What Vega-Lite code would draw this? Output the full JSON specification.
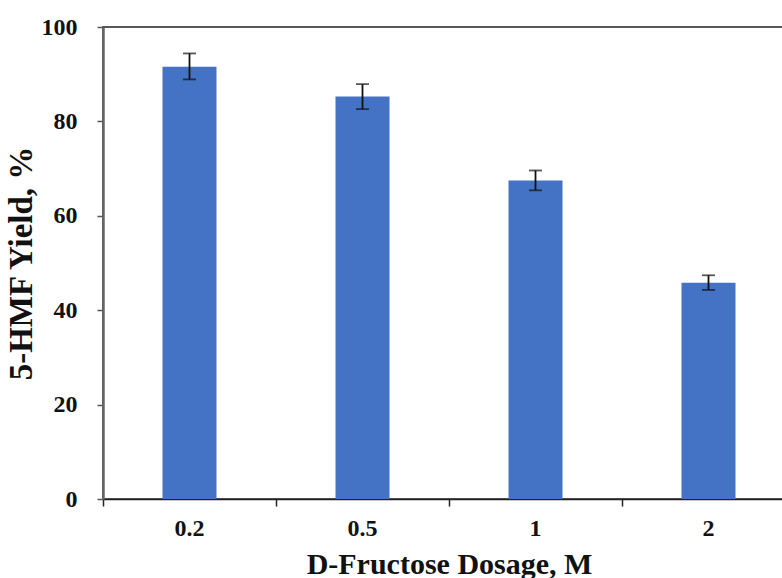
{
  "$schema": "https://vega.github.io/schema/vega-lite/v6.json",
  "autosize": "none",
  "padding": {"left": 103, "top": 27, "right": 0, "bottom": 79},
  "width": 692,
  "height": 472,
  "background": "white",
  "config": {
    "view": {"stroke": "#222", "strokeWidth": 1.5},
    "font": "Liberation Serif"
  },
  "data": {
    "values": [
      {"dosage": "0.2", "yield": 91.6, "low": 88.9, "high": 94.4},
      {"dosage": "0.5", "yield": 85.3, "low": 82.6, "high": 87.9},
      {"dosage": "1", "yield": 67.5, "low": 65.4, "high": 69.6},
      {"dosage": "2", "yield": 45.8, "low": 44.3, "high": 47.4}
    ]
  },
  "resolve": {"axis": {"x": "independent"}},
  "layer": [
    {
      "mark": {"type": "bar", "color": "#4472C4", "width": 54},
      "encoding": {
        "x": {
          "field": "dosage", "type": "ordinal", "sort": null,
          "scale": {"paddingInner": 0, "paddingOuter": 0},
          "axis": {
            "orient": "bottom",
            "title": "D-Fructose Dosage, M",
            "titleFont": "Liberation Serif", "titleFontSize": 30, "titleFontWeight": "bold", "titleColor": "#111",
            "titlePadding": 9,
            "labelFont": "Liberation Serif", "labelFontSize": 24, "labelFontWeight": "bold", "labelColor": "#111",
            "labelAngle": 0, "labelPadding": 17,
            "ticks": false, "domainColor": "#222", "domainWidth": 1.5
          }
        },
        "y": {
          "field": "yield", "type": "quantitative",
          "scale": {"domain": [0, 100], "nice": false},
          "axis": {
            "title": "5-HMF Yield, %",
            "titleFont": "Liberation Serif", "titleFontSize": 33, "titleFontWeight": "bold", "titleColor": "#111",
            "titlePadding": 3,
            "labelFont": "Liberation Serif", "labelFontSize": 24, "labelFontWeight": "bold", "labelColor": "#111",
            "labelPadding": 20,
            "values": [0, 20, 40, 60, 80, 100],
            "grid": false, "tickSize": 6, "tickColor": "#555", "tickWidth": 1.5,
            "domainColor": "#666", "domainWidth": 2.5
          }
        }
      }
    },
    {
      "mark": {"type": "rule", "color": "#111", "strokeWidth": 1.8},
      "encoding": {
        "x": {
          "field": "dosage", "type": "ordinal", "sort": null,
          "axis": {
            "orient": "bottom", "title": null, "labels": false, "domain": false,
            "bandPosition": 0, "ticks": true, "tickSize": 7, "tickColor": "#222", "tickWidth": 1.5
          }
        },
        "y": {"field": "low", "type": "quantitative"},
        "y2": {"field": "high"}
      }
    },
    {
      "mark": {"type": "tick", "color": "#111", "size": 13, "thickness": 1.8},
      "encoding": {
        "x": {"field": "dosage", "type": "ordinal", "sort": null, "axis": null},
        "y": {"field": "low", "type": "quantitative"}
      }
    },
    {
      "mark": {"type": "tick", "color": "#111", "size": 13, "thickness": 1.8},
      "encoding": {
        "x": {"field": "dosage", "type": "ordinal", "sort": null, "axis": null},
        "y": {"field": "high", "type": "quantitative"}
      }
    }
  ]
}
